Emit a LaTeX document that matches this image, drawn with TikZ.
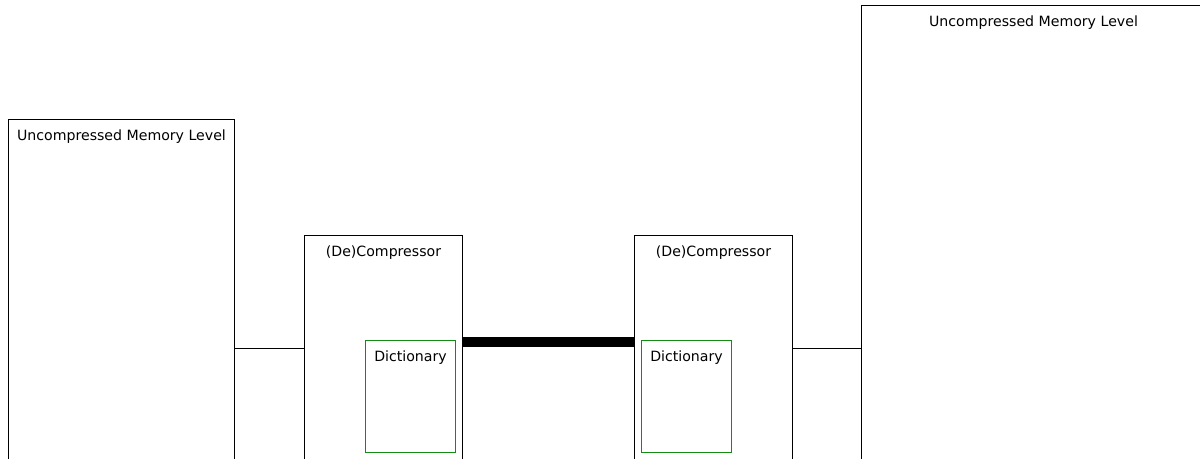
\documentclass[tikz,border=0pt]{standalone}
\usepackage{fontspec}
\setmainfont{DejaVu Sans}
\usepackage{xcolor}
\usepackage{tikz}
\usetikzlibrary{positioning,calc}
\definecolor{dictgreen}{RGB}{20,140,20}
\tikzset{
  levelbox/.style={draw, line width=0.75pt, anchor=north west, inner sep=0pt},
  dictbox/.style={draw=dictgreen, line width=0.75pt, anchor=north west, inner sep=0pt},
  boxtitle/.style={font=\fontsize{10.6}{12.5}\selectfont, inner sep=0pt}
}
\begin{document}
\begin{tikzpicture}[x=0.75pt,y=-0.75pt]
	\def\px{0.75pt}
	\def\tshift{13.5pt}
	\useasboundingbox (0,0) rectangle (1200,459);
	\clip (0,0) rectangle (1200,459);
	
	% memory levels
	\node[levelbox, minimum width=226*\px, minimum height=360*\px] (lmem) at (8,119) {};
	\node[levelbox, minimum width=344*\px, minimum height=480*\px] (rmem) at (861,5) {};
	\node[boxtitle] (lmemtitle) at ([yshift=-\tshift]lmem.north) {Uncompressed Memory Level};
	\node[boxtitle] (rmemtitle) at ([yshift=-\tshift]rmem.north) {Uncompressed Memory Level};
	
	% compressors
	\node[levelbox, minimum width=158*\px, minimum height=250*\px] (comp1) at (304,235) {};
	\node[levelbox, minimum width=158*\px, minimum height=250*\px] (comp2) at (634,235) {};
	\node[boxtitle] (comp1title) at ([yshift=-\tshift]comp1.north) {(De)Compressor};
	\node[boxtitle] (comp2title) at ([yshift=-\tshift]comp2.north) {(De)Compressor};
	
	% dictionaries
	\node[dictbox, minimum width=90*\px, minimum height=112*\px] (dict1) at (365,340) {};
	\node[dictbox, minimum width=90*\px, minimum height=112*\px] (dict2) at (641,340) {};
	\node[boxtitle] (dict1title) at ([yshift=-\tshift]dict1.north) {Dictionary};
	\node[boxtitle] (dict2title) at ([yshift=-\tshift]dict2.north) {Dictionary};
	
	% links
	\coordinate (link) at (0,349);
	\coordinate (bus) at (0,342);
	\draw[line width=0.75pt] (lmem.east |- link) -- (comp1.west |- link);
	\draw[line width=0.75pt] (comp2.east |- link) -- (rmem.west |- link);
	\draw[line width=7.5pt] (comp1.east |- bus) -- (comp2.west |- bus);
\end{tikzpicture}
\end{document}
